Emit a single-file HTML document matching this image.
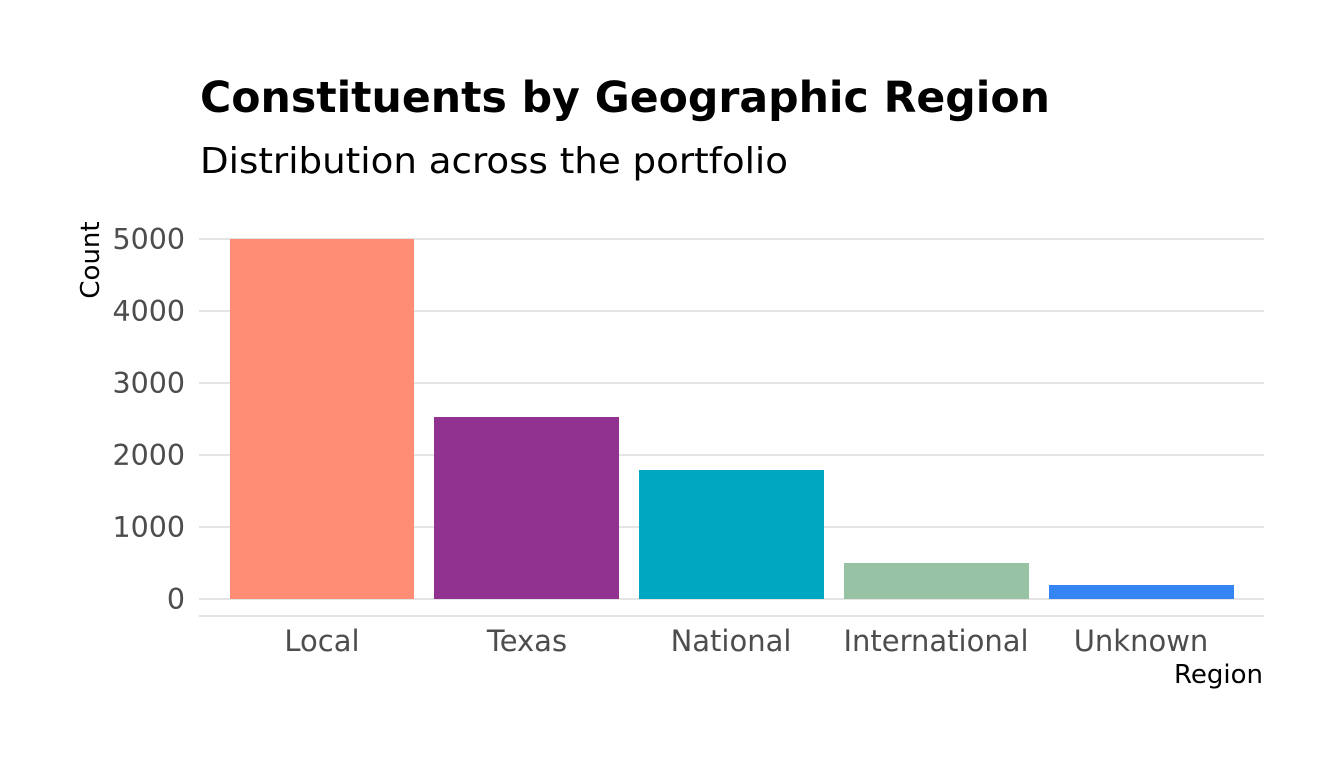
<!DOCTYPE html>
<html><head><meta charset="utf-8"><style>html,body{margin:0;padding:0;background:#fff}svg{display:block}</style></head>
<body>
<svg width="1344" height="768" xmlns="http://www.w3.org/2000/svg" font-family="DejaVu Sans, Liberation Sans, sans-serif">
<rect width="1344" height="768" fill="#fff"/>
<text x="200" y="112" font-size="43" font-weight="bold" fill="#000" textLength="850" lengthAdjust="spacingAndGlyphs">Constituents by Geographic Region</text>
<text x="200" y="173" font-size="36" fill="#000" textLength="588" lengthAdjust="spacingAndGlyphs">Distribution across the portfolio</text>
<g stroke="#d4d4d4" stroke-width="1.2">
<line x1="199" x2="1264" y1="239" y2="239"/>
<line x1="199" x2="1264" y1="311" y2="311"/>
<line x1="199" x2="1264" y1="383" y2="383"/>
<line x1="199" x2="1264" y1="455" y2="455"/>
<line x1="199" x2="1264" y1="527" y2="527"/>
<line x1="199" x2="1264" y1="599" y2="599"/>
<line x1="199" x2="1264" y1="616" y2="616"/>
</g>
<rect x="230" y="239" width="184" height="360" fill="#FF8C75"/>
<rect x="434" y="417" width="185" height="182" fill="#923290"/>
<rect x="639" y="470" width="185" height="129" fill="#00A7C1"/>
<rect x="844" y="563" width="185" height="36" fill="#98C2A4"/>
<rect x="1049" y="585" width="185" height="14" fill="#3484F4"/>
<g font-size="28.5" fill="#4d4d4d" text-anchor="end">
<text x="185" y="249">5000</text>
<text x="185" y="321">4000</text>
<text x="185" y="393">3000</text>
<text x="185" y="465">2000</text>
<text x="185" y="537">1000</text>
<text x="185" y="609">0</text>
</g>
<g font-size="29" fill="#4d4d4d" text-anchor="middle">
<text x="322" y="651">Local</text>
<text x="527" y="651">Texas</text>
<text x="731" y="651">National</text>
<text x="936" y="651">International</text>
<text x="1141" y="651">Unknown</text>
</g>
<text x="1263" y="683" font-size="26" fill="#000" text-anchor="end">Region</text>
<text transform="translate(99,260) rotate(-90)" font-size="26" fill="#000" text-anchor="middle">Count</text>
</svg>
</body></html>
